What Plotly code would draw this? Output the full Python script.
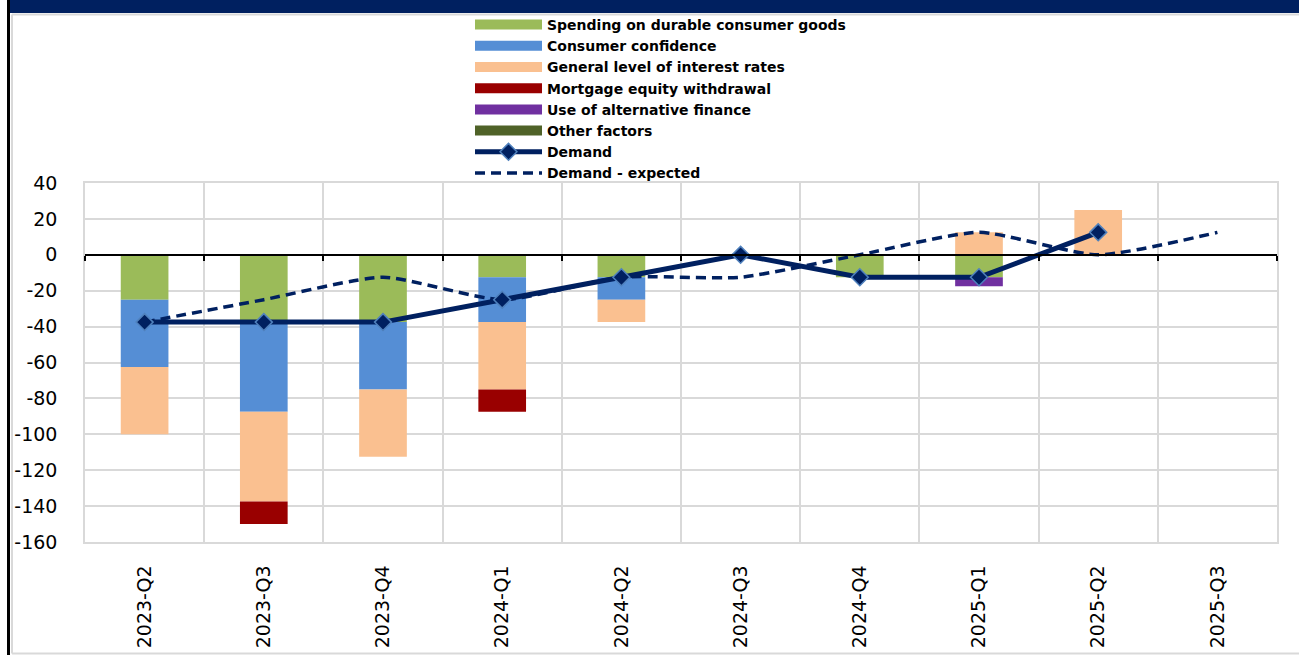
import plotly.graph_objects as go

categories = ["2023-Q2", "2023-Q3", "2023-Q4", "2024-Q1", "2024-Q2",
              "2024-Q3", "2024-Q4", "2025-Q1", "2025-Q2", "2025-Q3"]

spending_durable = [-25, -37.5, -37.5, -12.5, -12.5, 0, -12.5, -12.5, 0, None]
consumer_confidence = [-37.5, -50, -37.5, -25, -12.5, 0, 0, 0, 0, None]
interest_rates = [-37.5, -50, -37.5, -37.5, -12.5, 0, 0, 12.5, 25, None]
mortgage_equity = [0, -12.5, 0, -12.5, 0, 0, 0, 0, 0, None]
alternative_finance = [0, 0, 0, 0, 0, 0, 0, -5, 0, None]
other_factors = [0, 0, 0, 0, 0, 0, 0, 0, 0, None]
demand = [-37.5, -37.5, -37.5, -25, -12.5, 0, -12.5, -12.5, 12.5, None]
demand_expected = [-37.5, -25, -12.5, -25, -12.5, -12.5, 0, 12.5, 0, 12.5]

y_tick_vals = [40, 20, 0, -20, -40, -60, -80, -100, -120, -140, -160]
y_tick_text = ["40", "20", "0", "-20", "-40", "-60", "-80", "-100", "-120", "-140", "-160"]

NAVY = "#002060"
FONT = "DejaVu Sans"

bar_series = [
    ("Spending on durable consumer goods", spending_durable, "#9BBB59"),
    ("Consumer confidence", consumer_confidence, "#558ED5"),
    ("General level of interest rates", interest_rates, "#FAC090"),
    ("Mortgage equity withdrawal", mortgage_equity, "#990000"),
    ("Use of alternative finance", alternative_finance, "#7030A0"),
    ("Other factors", other_factors, "#4F6228"),
]

n = len(categories)
fig = go.Figure()

# invisible helper trace so the zero-line axis (x2) gets drawn
fig.add_trace(go.Scatter(x=[None], y=[None], xaxis="x2", showlegend=False,
                         hoverinfo="skip", mode="lines"))

rank = 1
for name, vals, color in bar_series:
    fig.add_trace(go.Bar(x=categories, y=vals, name=name, marker_color=color,
                         marker_line_width=0, showlegend=False, legendgroup=name))
    # legend proxy with wide swatch
    fig.add_trace(go.Scatter(x=[None], y=[None], mode="lines", name=name,
                             line=dict(color=color, width=10), legendgroup=name,
                             legendrank=rank, hoverinfo="skip"))
    rank += 1

fig.add_trace(go.Scatter(x=categories, y=demand_expected, name="Demand - expected",
                         mode="lines", line=dict(color=NAVY, width=3.5, dash="10px,6px",
                                                 shape="spline", smoothing=0.6),
                         legendrank=rank + 1))
fig.add_trace(go.Scatter(x=categories, y=demand, name="Demand", mode="lines+markers",
                         line=dict(color=NAVY, width=5),
                         marker=dict(symbol="diamond", size=13, color=NAVY,
                                     line=dict(color="#4F81BD", width=1.5)),
                         legendrank=rank))

W, H = 1299, 655
L, R, T, B = 85, 22, 183, 113
pw, ph = W - L - R, H - T - B


def px(xp):
    return (xp - L) / pw


def py(yp):
    return (H - B - yp) / ph


shapes = [
    dict(type="rect", xref="paper", yref="paper", x0=px(9), x1=px(W + 5), y0=py(13), y1=py(-2),
         fillcolor=NAVY, line_width=0, layer="below"),
    dict(type="line", xref="paper", yref="paper", x0=px(12), x1=px(W + 5), y0=py(14.5), y1=py(14.5),
         line=dict(color="#D9D9D9", width=2)),
    dict(type="line", xref="paper", yref="paper", x0=px(12), x1=px(12), y0=py(14.5), y1=py(653.5),
         line=dict(color="#D9D9D9", width=2)),
    dict(type="line", xref="paper", yref="paper", x0=px(12), x1=px(W + 5), y0=py(653.5), y1=py(653.5),
         line=dict(color="#D9D9D9", width=2)),
    dict(type="line", xref="paper", yref="paper", x0=px(8.5), x1=px(8.5), y0=py(-2), y1=py(H + 2),
         line=dict(color="black", width=3)),
]

fig.update_layout(
    width=W, height=H,
    margin=dict(l=L, r=R, t=T, b=B, autoexpand=False),
    barmode="relative", bargap=0.6,
    plot_bgcolor="white", paper_bgcolor="white",
    font=dict(family=FONT, color="black"),
    showlegend=True,
    legend=dict(x=px(470), y=py(9), xanchor="left", yanchor="top",
                traceorder="normal", itemwidth=67, bgcolor="rgba(0,0,0,0)",
                font=dict(family=FONT, size=14, color="black", weight="bold"),
                itemclick="toggle"),
    shapes=shapes,
    xaxis=dict(type="category", categoryorder="array", categoryarray=categories,
               range=[-0.5, n - 0.5], tickson="boundaries", showgrid=True,
               gridcolor="#D9D9D9", gridwidth=1.5, ticks="", tickangle=-90,
               tickfont=dict(size=19, family=FONT), showline=True, linecolor="#D9D9D9",
               linewidth=1.5, mirror=True, ticklabelstandoff=14),
    xaxis2=dict(overlaying="x", anchor="free", position=(0 - (-160)) / 200,
                range=[-0.5, n - 0.5], tickvals=[i - 0.5 for i in range(n + 1)],
                showticklabels=False, ticks="outside", ticklen=5, tickwidth=1.5,
                tickcolor="black", showline=True, linecolor="black", linewidth=1.5,
                showgrid=False, zeroline=False, fixedrange=True),
    yaxis=dict(range=[-160, 40], tickvals=y_tick_vals, ticktext=y_tick_text,
               showgrid=True, gridcolor="#D9D9D9", gridwidth=1.5,
               zeroline=True, zerolinecolor="black", zerolinewidth=1.5,
               tickfont=dict(size=19, family=FONT), showline=True, linecolor="#D9D9D9",
               linewidth=1.5, mirror=True, ticklabelstandoff=22),
)

fig.write_html("out.html", config={"displayModeBar": False},
               post_script="document.body.style.margin='0px';")
